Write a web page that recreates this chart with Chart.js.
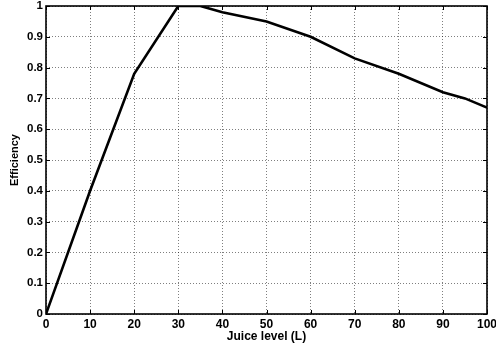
<!DOCTYPE html>
<html>
<head>
<meta charset="utf-8">
<script src="https://cdn.jsdelivr.net/npm/chart.js@4/dist/chart.umd.min.js"></script>
<style>
  html, body { margin: 0; padding: 0; background: #fff; }
  #wrap { width: 496px; height: 347px; }
</style>
</head>
<body>
<div id="wrap"><canvas id="chart"></canvas></div>
<script>
// juice level (L) vs efficiency
const juiceLevel = [0, 10, 20, 30, 35, 40, 50, 60, 70, 80, 90, 95, 100];
const efficiency = [0, 0.4, 0.78, 1.0, 1.0, 0.98, 0.95, 0.9, 0.83, 0.78, 0.72, 0.7, 0.67];

const xTicks = [0, 10, 20, 30, 40, 50, 60, 70, 80, 90, 100];
const yTicks = [0, 0.1, 0.2, 0.3, 0.4, 0.5, 0.6, 0.7, 0.8, 0.9, 1];

const FONT = "'Liberation Sans', Arial, Helvetica, sans-serif";

// matlab style box with inward tick marks on all four sides
const boxPlugin = {
  id: "matlabBox",
  afterDraw: (chart) => {
    const { ctx, chartArea: a, scales } = chart;
    const len = 4;
    ctx.save();
    ctx.strokeStyle = "#000";
    ctx.lineWidth = 1;
    ctx.beginPath();
    xTicks.forEach((v) => {
      const px = Math.round(scales.x.getPixelForValue(v)) + 0.5;
      ctx.moveTo(px, a.bottom);
      ctx.lineTo(px, a.bottom - len);
      ctx.moveTo(px, a.top);
      ctx.lineTo(px, a.top + len);
    });
    yTicks.forEach((v) => {
      const py = Math.round(scales.y.getPixelForValue(v)) + 0.5;
      ctx.moveTo(a.left, py);
      ctx.lineTo(a.left + len, py);
      ctx.moveTo(a.right, py);
      ctx.lineTo(a.right - len, py);
    });
    ctx.stroke();
    ctx.lineWidth = 1.6;
    ctx.strokeRect(a.left, a.top, a.right - a.left, a.bottom - a.top);
    ctx.restore();
  },
};

const fmt = (v) => `${Math.round(v * 10) / 10}`;

new Chart(document.getElementById("chart"), {
  type: "line",
  data: {
    datasets: [
      {
        data: juiceLevel.map((x, i) => ({ x: x, y: efficiency[i] })),
        borderColor: "#000",
        borderWidth: 2.6,
        pointRadius: 0,
        tension: 0,
        fill: false,
      },
    ],
  },
  options: {
    responsive: true,
    maintainAspectRatio: false,
    animation: false,
    layout: { padding: { top: 6, right: 9, left: 0, bottom: 0 } },
    plugins: {
      legend: { display: false },
      tooltip: { enabled: false },
    },
    scales: {
      x: {
        type: "linear",
        min: 0,
        max: 100,
        afterBuildTicks: (s) => {
          s.ticks = xTicks.map((v) => ({ value: v }));
        },
        afterFit: (s) => {
          s.height = 33;
          s.paddingLeft = 0;
          s.paddingRight = 0;
        },
        ticks: {
          color: "#000",
          padding: 3,
          maxRotation: 0,
          autoSkip: false,
          font: { family: FONT, size: 12, weight: "bold" },
          callback: (v) => `${v}`,
        },
        grid: {
          color: "rgba(0,0,0,0.5)",
          lineWidth: 1,
          drawTicks: false,
        },
        border: { display: false, dash: [1, 2] },
        title: {
          display: true,
          text: "Juice level (L)",
          color: "#000",
          font: { family: FONT, size: 12, weight: "bold" },
          padding: { top: 0, bottom: 3 },
        },
      },
      y: {
        type: "linear",
        min: 0,
        max: 1,
        afterBuildTicks: (s) => {
          s.ticks = yTicks.map((v) => ({ value: v }));
        },
        afterFit: (s) => {
          s.width = 46;
          s.paddingTop = 0;
          s.paddingBottom = 0;
        },
        ticks: {
          color: "#000",
          padding: 3,
          autoSkip: false,
          font: { family: FONT, size: 11.5, weight: "bold" },
          callback: (v) => fmt(v),
        },
        grid: {
          color: "rgba(0,0,0,0.5)",
          lineWidth: 1,
          drawTicks: false,
        },
        border: { display: false, dash: [1, 2] },
        title: {
          display: true,
          text: "Efficiency",
          color: "#000",
          font: { family: FONT, size: 11, weight: "bold" },
          padding: { top: 8, bottom: 0 },
        },
      },
    },
  },
  plugins: [boxPlugin],
});
</script>
</body>
</html>
